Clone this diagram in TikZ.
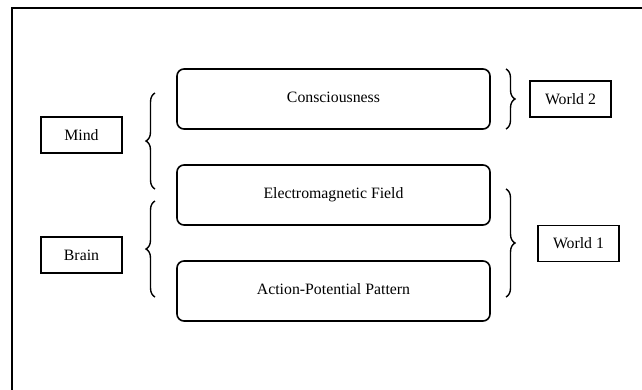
\documentclass[tikz,border=0pt]{standalone}
\usepackage{fontspec}
\setmainfont{Liberation Serif}
\usetikzlibrary{decorations.pathreplacing}
\begin{document}
\begin{tikzpicture}[x=1pt,y=-1pt,
  layer/.style={draw,rounded corners=7pt,line width=1.6pt,minimum width=313pt,minimum height=60pt,inner sep=0pt,font=\fontsize{15.8}{18}\selectfont},
  tag/.style={draw,line width=1.8pt,minimum width=81pt,minimum height=36pt,inner sep=0pt,font=\fontsize{15.8}{18}\selectfont},
  curly/.style={decorate,decoration={brace,amplitude=9pt},line width=1.4pt}]
\useasboundingbox (0,0) rectangle (642,389);
\draw[line width=2pt] (12,392) -- (12,7.5) -- (645,7.5);
\node[layer] (c) at (333.5,99) {\raisebox{3pt}{Consciousness}};
\node[layer] (e) at (333.5,195) {\raisebox{-3pt}{Electromagnetic Field}};
\node[layer] (a) at (333.5,291) {\raisebox{4pt}{Action-Potential Pattern}};
\node[tag] (mind) at (81.5,135) {Mind};
\node[tag] (brain) at (81.5,255) {Brain};
\node[tag] (w2) at (570.5,99) {World 2};
\node[tag] (w1) at (578.5,243.5) {World 1};
\coordinate (mb1) at (155,189);
\coordinate (mb2) at (155,93);
\coordinate (bb1) at (155,297);
\coordinate (bb2) at (155,201);
\coordinate (w2a) at (506,69);
\coordinate (w2b) at (506,129);
\coordinate (w1a) at (506,189);
\coordinate (w1b) at (506,297);
\draw[curly] (mb1) -- (mb2);
\draw[curly] (bb1) -- (bb2);
\draw[curly] (w2a) -- (w2b);
\draw[curly] (w1a) -- (w1b);
\end{tikzpicture}
\end{document}
